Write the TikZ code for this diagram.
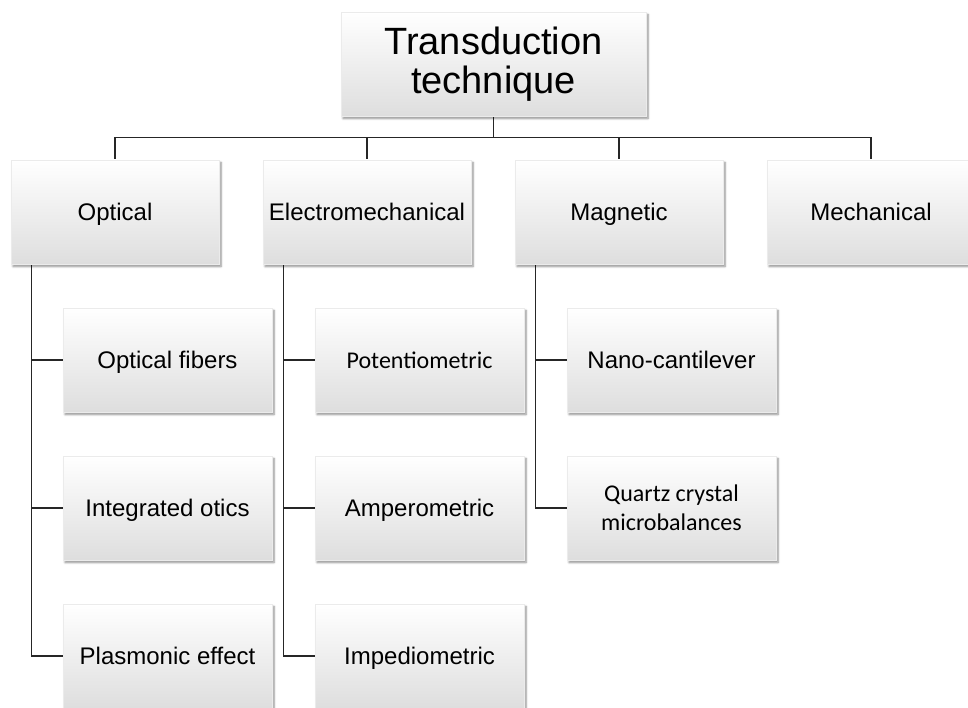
\documentclass[tikz,border=0pt]{standalone}
\usepackage{fontspec}
\setmainfont{Liberation Sans}
\newfontfamily\calfont{Carlito}
\usetikzlibrary{shadows.blur,backgrounds}
\tikzset{
  mbox/.style={rectangle, inner sep=0pt, minimum height=104pt, minimum width=208pt,
    top color=white, bottom color=black!13, draw=black!8, line width=0.4pt,
    blur shadow={shadow xshift=2pt, shadow yshift=-2.5pt, shadow opacity=45, shadow blur steps=6, shadow blur extra rounding=0pt},
    font=\fontsize{24}{28}\selectfont, text=black, align=center},
  box/.style={mbox, text height=18pt, text depth=1pt},
  cbox/.style={box, minimum width=209pt},
  conn/.style={draw=black!85, line width=1.3pt}
}
\begin{document}
\begin{tikzpicture}[x=1pt,y=-1pt]
\useasboundingbox (0,0) rectangle (968,708);
\node[mbox, minimum width=305pt, font=\fontsize{38}{39}\selectfont] (top) at (493.5,64) {Transduction\\technique};
\node[box] (opt) at (115,212) {Optical};
\node[box] (elm) at (367,212) {Electromechanical};
\node[box] (mag) at (619,212) {Magnetic};
\node[box] (mec) at (871,212) {Mechanical};
\node[cbox] (of) at (167.5,360) {Optical fibers};
\node[cbox] (io) at (167.5,508) {Integrated otics};
\node[cbox] (pe) at (167.5,656) {Plasmonic effect};
\node[cbox, font=\calfont\fontsize{24}{28}\selectfont] (po) at (419.5,360) {Potentiometric};
\node[cbox] (am) at (419.5,508) {Amperometric};
\node[cbox] (im) at (419.5,656) {Impediometric};
\node[cbox] (nc) at (671.5,360) {Nano-cantilever};
\node[mbox, minimum width=209pt, font=\calfont\fontsize{24}{29}\selectfont] (qc) at (671.5,508) {Quartz crystal\\microbalances};
\begin{scope}[on background layer]
\foreach \n in {opt,elm,mag,mec}{
  \draw[conn] (top.south) -- ++(0,21) -| (\n.north);
}
\foreach \p/\c in {opt/of,opt/io,opt/pe,elm/po,elm/am,elm/im,mag/nc,mag/qc}{
  \draw[conn] ([xshift=21pt]\p.south west) |- (\c.west);
}
\end{scope}
\end{tikzpicture}
\end{document}
